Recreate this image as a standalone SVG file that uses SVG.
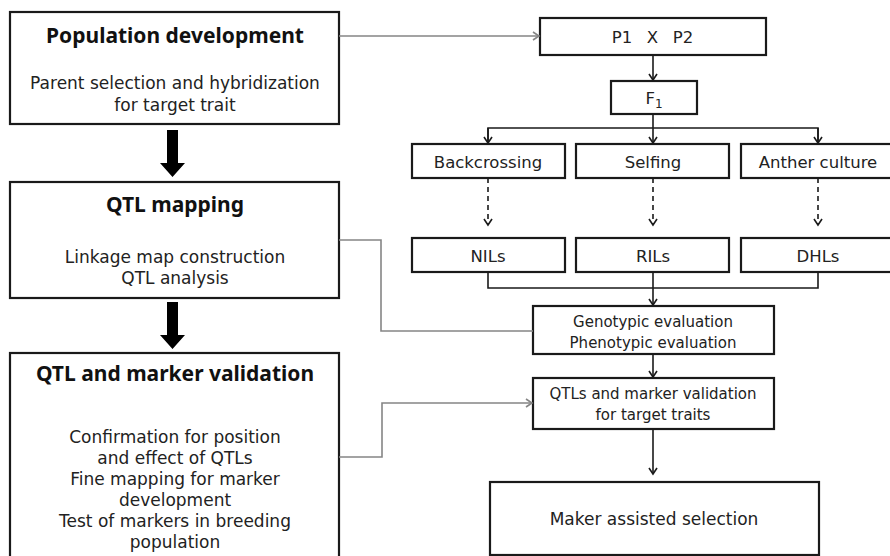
<svg xmlns="http://www.w3.org/2000/svg" width="890" height="556" viewBox="0 0 890 556">
  <style>
    .box { fill: #fff; stroke: #1a1a1a; stroke-width: 2.2; }
    .t { font-family: "DejaVu Sans", "Noto Sans", sans-serif; font-size: 17px; fill: #222; text-anchor: middle; }
    .b { font-family: "DejaVu Sans", "Noto Sans", sans-serif; font-size: 16.5px; fill: #222; text-anchor: middle; }
    .h { font-family: "Noto Sans", "Open Sans", sans-serif; font-size: 21px; font-weight: bold; fill: #111; text-anchor: middle; }
    .s { font-family: "DejaVu Sans", "Noto Sans", sans-serif; font-size: 15px; fill: #222; text-anchor: middle; }
    .ln { fill: none; stroke: #1a1a1a; stroke-width: 1.6; }
    .dash { fill: none; stroke: #1a1a1a; stroke-width: 1.6; stroke-dasharray: 5 4; }
    .gray { fill: none; stroke: #858585; stroke-width: 1.6; }
  </style>
  <defs>
    <marker id="open" markerWidth="10" markerHeight="10" refX="8" refY="5" orient="auto" markerUnits="userSpaceOnUse">
      <path d="M2,1 L8,5 L2,9" fill="none" stroke="#1a1a1a" stroke-width="1.6"/>
    </marker>
    <marker id="openGray" markerWidth="10" markerHeight="10" refX="8" refY="5" orient="auto" markerUnits="userSpaceOnUse">
      <path d="M2,1 L8,5 L2,9" fill="none" stroke="#858585" stroke-width="1.6"/>
    </marker>
    <path id="bigArrow" d="M-5.5,0 L5.5,0 L5.5,33 L12.5,33 L0,47 L-12.5,33 L-5.5,33 Z" fill="#000"/>
  </defs>

  <!-- left column: stage boxes -->
  <g id="population-development">
    <rect class="box" x="10" y="12" width="329" height="112"/>
    <text class="h" x="175" y="43">Population development</text>
    <text class="t" x="175" y="89">Parent selection and hybridization</text>
    <text class="t" x="175" y="111">for target trait</text>
  </g>
  <g id="qtl-mapping">
    <rect class="box" x="10" y="182" width="329" height="116"/>
    <text class="h" x="175" y="212">QTL mapping</text>
    <text class="t" x="175" y="263">Linkage map construction</text>
    <text class="t" x="175" y="284">QTL analysis</text>
  </g>
  <g id="qtl-marker-validation">
    <rect class="box" x="10" y="353" width="329" height="210"/>
    <text class="h" x="175" y="381">QTL and marker validation</text>
    <text class="t" x="175" y="443">Confirmation for position</text>
    <text class="t" x="175" y="464">and effect of QTLs</text>
    <text class="t" x="175" y="485">Fine mapping for marker</text>
    <text class="t" x="175" y="506">development</text>
    <text class="t" x="175" y="527">Test of markers in breeding</text>
    <text class="t" x="175" y="548">population</text>
  </g>

  <!-- right column: crossing scheme -->
  <g id="p1xp2">
    <rect class="box" x="540" y="18" width="226" height="37"/>
    <text class="b" x="622" y="43">P1</text>
    <text class="b" x="652.5" y="43">X</text>
    <text class="b" x="683" y="43">P2</text>
  </g>
  <g id="f1">
    <rect class="box" x="611" y="81" width="86" height="33"/>
    <text class="b" x="654" y="104">F<tspan font-size="12" dy="4">1</tspan></text>
  </g>
  <g id="backcrossing">
    <rect class="box" x="412" y="144" width="153" height="34"/>
    <text class="b" x="488" y="168">Backcrossing</text>
  </g>
  <g id="selfing">
    <rect class="box" x="576" y="144" width="153" height="34"/>
    <text class="b" x="653" y="168">Selfing</text>
  </g>
  <g id="anther-culture">
    <rect class="box" x="741" y="144" width="154" height="34"/>
    <text class="b" x="818" y="168">Anther culture</text>
  </g>
  <g id="nils">
    <rect class="box" x="412" y="238" width="153" height="34"/>
    <text class="b" x="488" y="262">NILs</text>
  </g>
  <g id="rils">
    <rect class="box" x="576" y="238" width="153" height="34"/>
    <text class="b" x="653" y="262">RILs</text>
  </g>
  <g id="dhls">
    <rect class="box" x="741" y="238" width="154" height="34"/>
    <text class="b" x="818" y="262">DHLs</text>
  </g>
  <g id="evaluation">
    <rect class="box" x="533" y="306" width="241" height="48"/>
    <text class="s" x="653" y="327">Genotypic evaluation</text>
    <text class="s" x="653" y="348">Phenotypic evaluation</text>
  </g>
  <g id="validation">
    <rect class="box" x="533" y="378" width="241" height="51"/>
    <text class="s" x="653" y="399">QTLs and marker validation</text>
    <text class="s" x="653" y="420">for target traits</text>
  </g>
  <g id="mas">
    <rect class="box" x="490" y="482" width="329" height="73"/>
    <text class="t" x="654" y="525">Maker assisted selection</text>
  </g>

  <!-- connectors -->
  <g id="connectors">
    <use href="#bigArrow" x="172.5" y="130"/>
    <use href="#bigArrow" x="172.5" y="302"/>

    <path class="gray" d="M339,36 H539" marker-end="url(#openGray)"/>
    <path class="gray" d="M339,240 H381 V331 H533"/>
    <path class="gray" d="M339,457 H382 V403 H532" marker-end="url(#openGray)"/>

    <path class="ln" d="M653,55 V80" marker-end="url(#open)"/>
    <path class="ln" d="M653,114 V128"/>
    <path class="ln" d="M488,143 V128 H818 V143"/>
    <path class="ln" d="M488,128 V143" marker-end="url(#open)"/>
    <path class="ln" d="M653,128 V143" marker-end="url(#open)"/>
    <path class="ln" d="M818,128 V143" marker-end="url(#open)"/>

    <path class="dash" d="M488,178 V225" marker-end="url(#open)"/>
    <path class="dash" d="M653,178 V225" marker-end="url(#open)"/>
    <path class="dash" d="M818,178 V225" marker-end="url(#open)"/>

    <path class="ln" d="M488,272 V288 H818 V272"/>
    <path class="ln" d="M653,272 V305" marker-end="url(#open)"/>
    <path class="ln" d="M653,354 V377" marker-end="url(#open)"/>
    <path class="ln" d="M653,429 V474" marker-end="url(#open)"/>
  </g>
</svg>
